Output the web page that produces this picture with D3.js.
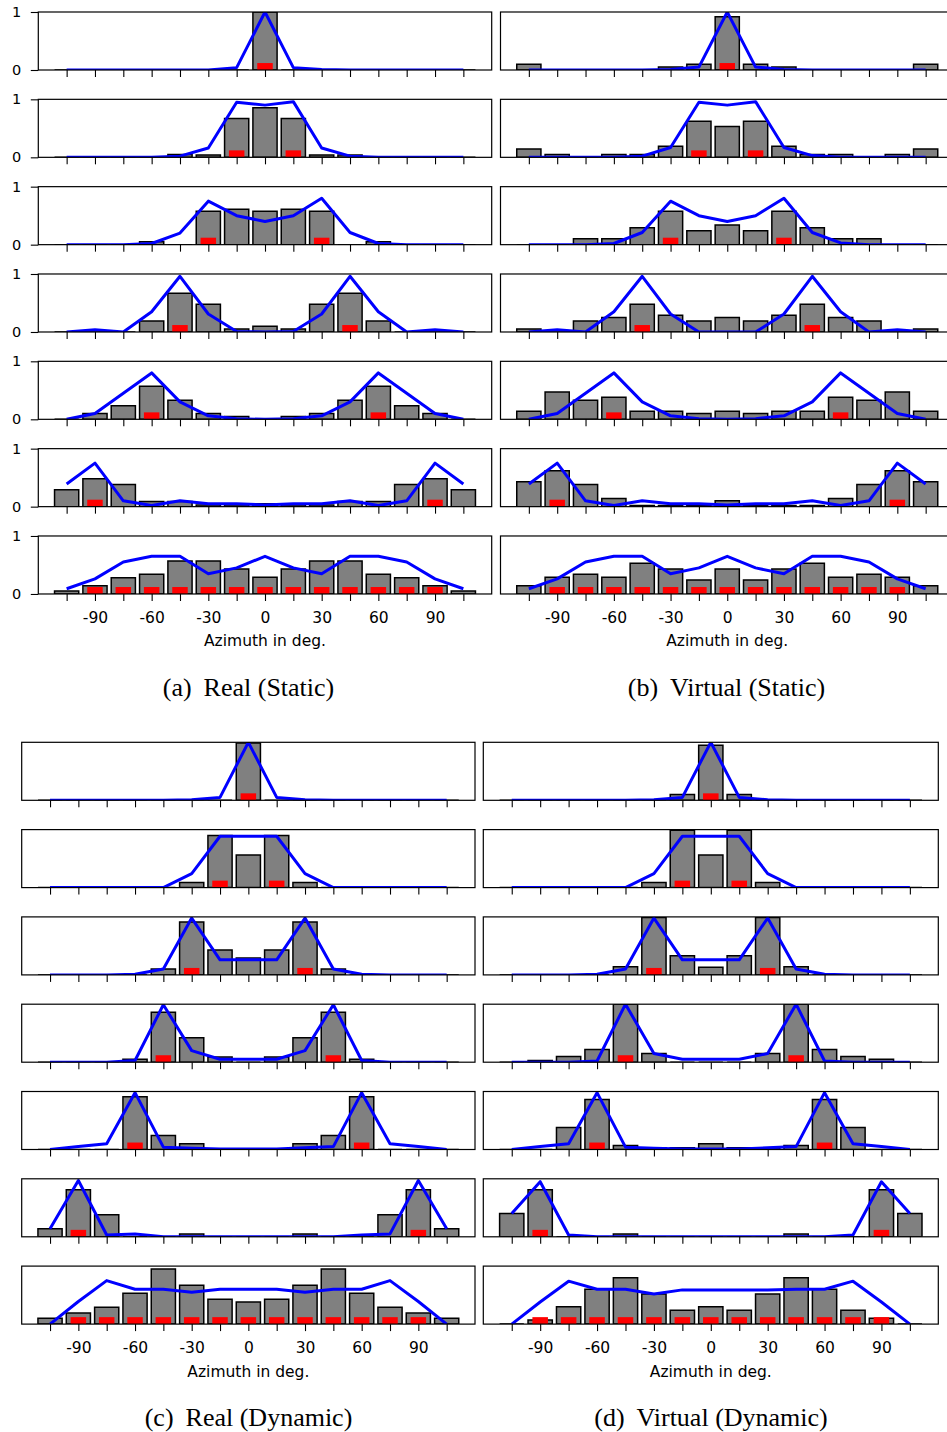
<!DOCTYPE html>
<html><head><meta charset="utf-8">
<script src="https://cdn.jsdelivr.net/npm/d3@7"></script>
<style>body{margin:0;background:#fff}</style>
</head><body><svg id="c" width="947" height="1432" xmlns="http://www.w3.org/2000/svg"></svg>
<script>
// ---------------- data ----------------
const azimuths = [-105,-90,-75,-60,-45,-30,-15,0,15,30,45,60,75,90,105];
const tickLabels = [-90,-60,-30,0,30,60,90];
const yTickLabels = [0,1];
const targets = [[0],[-15,15],[-30,30],[-45,45],[-60,60],[-90,90],[-90,-75,-60,-45,-30,-15,0,15,30,45,60,75,90]];
const targetMarkHeight = 0.12;
const xAxisTitle = "Azimuth in deg.";

const realStaticBars = [
 [0,0,0,0,0,0,0,1.0,0,0,0,0,0,0,0],
 [0,0,0,0,0.05,0.04,0.67,0.855,0.67,0.04,0.04,0,0,0,0],
 [0,0,0,0.05,0,0.575,0.61,0.575,0.61,0.575,0,0.05,0,0,0],
 [0,0,0,0.19,0.67,0.48,0.05,0.1,0.05,0.48,0.67,0.19,0,0,0],
 [0,0.1,0.235,0.57,0.33,0.1,0.05,0,0.05,0.1,0.33,0.57,0.235,0.1,0],
 [0.29,0.48,0.38,0.09,0.09,0.03,0.03,0.05,0.03,0.03,0.09,0.09,0.38,0.48,0.29],
 [0.05,0.14,0.28,0.34,0.57,0.57,0.43,0.29,0.43,0.57,0.57,0.34,0.28,0.14,0.05]
];
const realStaticLine = [
 [0,0,0,0,0,0,0.04,1,0.04,0.01,0,0,0,0,0],
 [0,0,0,0,0.02,0.16,0.95,0.9,0.96,0.16,0.02,0,0,0,0],
 [0,0,0,0.02,0.2,0.75,0.5,0.4,0.5,0.8,0.21,0.02,0,0,0],
 [0,0.04,0,0.35,0.96,0.31,0.01,0,0.01,0.31,0.96,0.35,0,0.04,0],
 [0,0.1,0.45,0.8,0.3,0.06,0.01,0,0.01,0.06,0.3,0.8,0.45,0.1,0],
 [0.39,0.75,0.1,0.02,0.1,0.05,0.05,0.03,0.05,0.05,0.1,0.02,0.1,0.75,0.39],
 [0.09,0.26,0.55,0.65,0.65,0.35,0.45,0.65,0.45,0.35,0.65,0.65,0.55,0.26,0.09]
];
const virtualStaticBars = [
 [0.1,0,0,0,0,0.05,0.1,0.92,0.1,0.05,0,0,0,0,0.1],
 [0.145,0.05,0,0.05,0.05,0.19,0.62,0.53,0.62,0.19,0.05,0.05,0,0.05,0.145],
 [0,0,0.1,0.1,0.29,0.575,0.24,0.34,0.24,0.575,0.29,0.1,0.1,0,0],
 [0.05,0,0.19,0.25,0.48,0.29,0.19,0.25,0.19,0.29,0.48,0.25,0.19,0,0.05],
 [0.14,0.47,0.33,0.38,0.14,0.14,0.1,0.14,0.1,0.14,0.14,0.38,0.33,0.47,0.14],
 [0.43,0.62,0.38,0.14,0.02,0.02,0.02,0.1,0.02,0.02,0.02,0.14,0.38,0.62,0.43],
 [0.14,0.29,0.34,0.29,0.53,0.43,0.24,0.43,0.24,0.43,0.53,0.29,0.34,0.29,0.14]
];
const virtualStaticLine = [
 [0,0,0,0,0,0.01,0.05,1,0.05,0.01,0,0,0,0,0],
 [0,0,0,0,0.02,0.17,0.95,0.9,0.96,0.17,0.03,0,0,0,0],
 [0,0,0,0.02,0.21,0.75,0.5,0.4,0.5,0.8,0.21,0.03,0,0,0],
 [0,0.04,0,0.35,0.96,0.31,0,0,0,0.31,0.96,0.35,0,0.04,0],
 [0,0.1,0.45,0.8,0.3,0.06,0.01,0,0.01,0.06,0.3,0.8,0.45,0.1,0],
 [0.39,0.75,0.1,0.02,0.1,0.05,0.05,0.03,0.05,0.05,0.1,0.02,0.1,0.75,0.39],
 [0.09,0.26,0.55,0.65,0.65,0.35,0.45,0.65,0.45,0.35,0.65,0.65,0.55,0.26,0.09]
];
const realDynamicBars = [
 [0,0,0,0,0,0,0,0.99,0,0,0,0,0,0,0],
 [0,0,0,0,0,0.09,0.9,0.56,0.9,0.09,0,0,0,0,0],
 [0,0,0,0,0.1,0.91,0.43,0.29,0.43,0.91,0.1,0,0,0,0],
 [0,0,0,0.05,0.86,0.42,0.09,0,0.09,0.42,0.86,0.05,0,0,0],
 [0,0,0,0.91,0.24,0.1,0,0,0,0.1,0.24,0.91,0,0,0],
 [0.14,0.81,0.38,0,0,0.05,0,0,0,0.05,0,0,0.38,0.81,0.14],
 [0.1,0.19,0.29,0.53,0.95,0.67,0.43,0.38,0.43,0.67,0.95,0.53,0.29,0.19,0.1]
];
const realDynamicLine = [
 [0,0,0,0,0,0.01,0.05,1,0.05,0.01,0,0,0,0,0],
 [0,0,0,0,0,0.24,0.885,0.885,0.885,0.24,0,0,0,0,0],
 [0,0,0,0.01,0.1,0.98,0.26,0.26,0.26,0.98,0.1,0.01,0,0,0],
 [0,0,0,0.03,0.99,0.2,0.05,0.05,0.05,0.2,0.99,0.03,0,0,0],
 [0,0.05,0.1,0.98,0.04,0.02,0.01,0.01,0.01,0.03,0.05,0.98,0.1,0.05,0],
 [0.14,0.97,0.03,0.05,0,0,0,0,0,0,0,0.03,0.05,0.97,0.14],
 [0,0.39,0.75,0.6,0.6,0.55,0.6,0.6,0.6,0.55,0.6,0.6,0.75,0.39,0]
];
const virtualDynamicBars = [
 [0,0,0,0,0,0,0.1,0.95,0.1,0,0,0,0,0,0],
 [0,0,0,0,0,0.09,0.99,0.56,0.99,0.09,0,0,0,0,0],
 [0,0,0,0,0.14,0.99,0.33,0.13,0.33,0.99,0.14,0,0,0,0],
 [0,0.03,0.1,0.22,1.0,0.15,0,0,0,0.15,1.0,0.22,0.1,0.05,0],
 [0,0,0.38,0.86,0.07,0.03,0.03,0.1,0.03,0.03,0.07,0.86,0.38,0,0],
 [0.4,0.81,0,0,0.05,0,0,0,0,0,0.05,0,0,0.81,0.4],
 [0,0.07,0.3,0.6,0.8,0.52,0.24,0.3,0.24,0.52,0.8,0.6,0.24,0.1,0]
];
const virtualDynamicLine = [
 [0,0,0,0,0,0.01,0.05,1,0.05,0.01,0,0,0,0,0],
 [0,0,0,0,0,0.24,0.885,0.885,0.885,0.24,0,0,0,0,0],
 [0,0,0,0.01,0.1,0.98,0.26,0.26,0.26,0.98,0.1,0.01,0,0,0],
 [0,0,0,0.02,1.0,0.15,0.05,0.05,0.05,0.15,1.0,0.02,0,0,0],
 [0,0.05,0.1,0.98,0.04,0.02,0.01,0.01,0.01,0.03,0.05,0.98,0.1,0.05,0],
 [0.4,0.95,0.03,0,0,0,0,0,0,0,0,0,0.03,0.95,0.4],
 [0,0.38,0.74,0.6,0.6,0.52,0.59,0.59,0.59,0.59,0.6,0.6,0.74,0.38,0]
];
const captions = [["(a)","Real (Static)"],["(b)","Virtual (Static)"],["(c)","Real (Dynamic)"],["(d)","Virtual (Dynamic)"]];

// ---------------- layout ----------------
const BAR_W = 12.8, MARK_W = 8.2, ROW_H = 58;
const panels = [
 {bars: realStaticBars,    line: realStaticLine,    left: 38.3,  right: 491.7, top: 12,    step: 87.33, yAxis: true,  capX: 248.5, capY: 696},
 {bars: virtualStaticBars, line: virtualStaticLine, left: 500.5, right: 954,   top: 12,    step: 87.33, yAxis: false, capX: 726.5, capY: 696},
 {bars: realDynamicBars,   line: realDynamicLine,   left: 21.7,  right: 475,   top: 742.3, step: 87.3,  yAxis: false, capX: 248.5, capY: 1426},
 {bars: virtualDynamicBars,line: virtualDynamicLine,left: 483.3, right: 938.3, top: 742.3, step: 87.3,  yAxis: false, capX: 711,   capY: 1426}
];

const svg = d3.select("#c");
const defs = svg.append("defs");
const FONT = "'DejaVu Sans', sans-serif";

panels.forEach((p, pi) => {
  const x = d3.scaleLinear().domain([-120, 120]).range([p.left, p.right]);
  p.bars.forEach((row, ri) => {
    const top = p.top + ri * p.step;
    const y = d3.scaleLinear().domain([0, 1]).range([top + ROW_H, top]);
    const g = svg.append("g");
    const clipId = `clip-${pi}-${ri}`;
    defs.append("clipPath").attr("id", clipId).append("rect")
      .attr("x", x(-120)).attr("y", y(1)).attr("width", x(120) - x(-120)).attr("height", y(0) - y(1));
    const plot = g.append("g").attr("clip-path", `url(#${clipId})`);

    plot.selectAll("path.bar").data(azimuths.map((a, i) => ({a, v: row[i]}))).join("path")
      .attr("class", "bar")
      .attr("d", d => `M${x(d.a - BAR_W/2)},${y(0)}V${y(d.v)}H${x(d.a + BAR_W/2)}V${y(0)}Z`)
      .attr("fill", "#808080").attr("stroke", "#000").attr("stroke-width", 1.5);

    plot.selectAll("rect.mark").data(targets[ri]).join("rect")
      .attr("class", "mark")
      .attr("x", d => x(d - MARK_W/2)).attr("width", d => x(d + MARK_W/2) - x(d - MARK_W/2))
      .attr("y", y(targetMarkHeight)).attr("height", y(0) - y(targetMarkHeight))
      .attr("fill", "#ff0000");

    plot.append("path").datum(p.line[ri])
      .attr("d", d3.line().x((v, i) => x(azimuths[i])).y(v => y(v)))
      .attr("fill", "none").attr("stroke", "#0000ff").attr("stroke-width", 3).attr("stroke-linejoin", "round");

    // spines
    g.append("rect").attr("x", x(-120)).attr("y", y(1))
      .attr("width", x(120) - x(-120)).attr("height", y(0) - y(1))
      .attr("fill", "none").attr("stroke", "#000").attr("stroke-width", 1.2);

    const isLast = ri === p.bars.length - 1;
    const ax = d3.axisBottom(x).tickValues(azimuths).tickSize(7).tickSizeOuter(0).tickPadding(11)
      .tickFormat(d => isLast && tickLabels.includes(d) ? String(d) : "");
    const axG = g.append("g").attr("transform", `translate(0,${y(0)})`).call(ax);
    axG.select(".domain").remove();
    axG.selectAll(".tick line").attr("stroke", "#000").attr("stroke-width", 1.1);
    axG.selectAll(".tick text").attr("font-family", FONT).attr("font-size", "15.5px").attr("fill", "#000");

    if (p.yAxis) {
      const ay = d3.axisLeft(y).tickValues(yTickLabels).tickSize(7.5).tickSizeOuter(0).tickPadding(9.5)
        .tickFormat(d => String(d));
      const ayG = g.append("g").attr("transform", `translate(${x(-120)},0)`).call(ay);
      ayG.select(".domain").remove();
      ayG.selectAll(".tick line").attr("stroke", "#000").attr("stroke-width", 1.1);
      ayG.selectAll(".tick text").attr("font-family", FONT).attr("font-size", "14.5px").attr("fill", "#000");
    }

    if (isLast) {
      g.append("text").attr("x", x(0)).attr("y", y(0) + 52.5)
        .attr("text-anchor", "middle").attr("font-family", FONT).attr("font-size", "15.5px")
        .text(xAxisTitle);
    }
  });

  const cap = svg.append("text").attr("x", p.capX).attr("y", p.capY)
    .attr("text-anchor", "middle").attr("font-family", "'Liberation Serif', 'Times New Roman', serif")
    .attr("font-size", "26px").attr("fill", "#000");
  cap.append("tspan").text(captions[pi][0]);
  cap.append("tspan").attr("dx", 12).text(captions[pi][1]);
});
</script>
</body></html>
